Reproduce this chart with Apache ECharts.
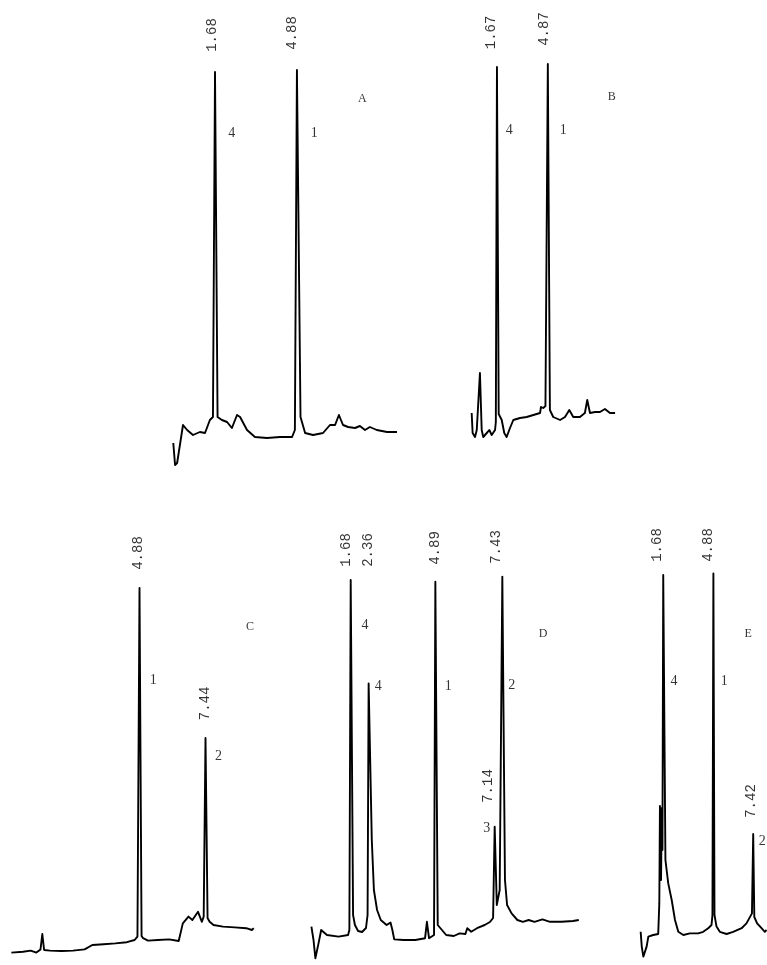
<!DOCTYPE html>
<html>
<head>
<meta charset="utf-8">
<script src="https://cdn.jsdelivr.net/npm/echarts@6/dist/echarts.min.js"></script>
<style>
  html, body { margin: 0; padding: 0; background: #fff; }
  #chart { width: 767px; height: 965px; }
</style>
</head>
<body>
<div id="chart"></div>
<script>
// retention time (min) vs detector response, one trace per chromatogram
const traceA = [
  [0.05, 6.75], [0.12, 1.25], [0.2, 1.75], [0.43, 11.25], [0.59, 10], [0.82, 8.75], [1.09, 9.5],
  [1.29, 9.25], [1.48, 12.5], [1.6, 13.25], [1.68, 99.5], [1.78, 13.25], [1.95, 12.5], [2.15, 12],
  [2.34, 10.5], [2.54, 13.75], [2.66, 13.25], [2.93, 10], [3.24, 8.25], [3.71, 8], [4.22, 8.25],
  [4.69, 8.25], [4.8, 10], [4.88, 100], [5.02, 13.25], [5.2, 9.25], [5.51, 8.75], [5.9, 9.25],
  [6.17, 11.25], [6.37, 11.25], [6.52, 13.75], [6.68, 11.25], [6.88, 10.75], [7.15, 10.5],
  [7.34, 11], [7.54, 10], [7.73, 10.75], [8.0, 10], [8.4, 9.5], [8.79, 9.5]
];
const traceB = [
  [0.08, 14.25], [0.14, 9.25], [0.29, 8.25], [0.4, 10], [0.6, 24.25], [0.71, 10], [0.81, 8.25],
  [1.03, 9.25], [1.19, 10], [1.34, 8.75], [1.55, 10], [1.6, 12], [1.67, 100.75], [1.78, 14],
  [1.97, 12.5], [2.13, 9.25], [2.28, 8.25], [2.49, 10.5], [2.7, 12.5], [3.12, 13], [3.54, 13.25],
  [3.96, 13.75], [4.38, 14.25], [4.44, 15.75], [4.58, 15.5], [4.72, 16], [4.87, 101.5], [5.0, 15],
  [5.21, 13.25], [5.64, 12.5], [5.95, 13.25], [6.22, 15], [6.47, 13.25], [6.89, 13.25], [7.2, 14.25],
  [7.35, 17.5], [7.52, 14.25], [7.84, 14.5], [8.15, 14.5], [8.46, 15.25], [8.78, 14.25], [9.1, 14.25]
];
const traceC = [
  [-0.09, 3.1], [0.36, 3.3], [0.66, 3.6], [0.88, 3.1], [1.04, 3.9], [1.11, 7.75], [1.18, 3.75],
  [1.41, 3.6], [1.85, 3.5], [2.3, 3.6], [2.75, 3.9], [3.05, 5], [3.49, 5.2], [3.94, 5.4], [4.39, 5.7],
  [4.69, 6.25], [4.8, 7.1], [4.88, 94.25], [4.96, 7.25], [5.02, 6.7], [5.21, 6.1], [5.59, 6.25],
  [6.03, 6.4], [6.4, 6], [6.56, 10.4], [6.78, 12.1], [6.93, 11.25], [7.15, 13.3], [7.3, 10.8],
  [7.37, 12.1], [7.44, 56.75], [7.52, 11.75], [7.6, 10.8], [7.75, 10], [8.12, 9.6], [8.57, 9.4],
  [9.02, 9.2], [9.24, 8.75], [9.31, 9.2]
];
const traceD = [
  [0.19, 9.6], [0.27, 6.25], [0.34, 1.7], [0.46, 5.4], [0.56, 8.75], [0.78, 7.5], [1.22, 7.1],
  [1.58, 7.5], [1.63, 8.75], [1.68, 96.25], [1.77, 12.5], [1.84, 10], [1.96, 8.5], [2.11, 8.25],
  [2.26, 9.25], [2.32, 12.5], [2.36, 70.4], [2.48, 31.25], [2.56, 18.75], [2.68, 13.75], [2.82, 11.25],
  [3.04, 10], [3.19, 10.6], [3.26, 8.75], [3.33, 6.4], [3.69, 6.25], [4.13, 6.25], [4.5, 6.7],
  [4.57, 10.8], [4.65, 6.7], [4.84, 7.5], [4.89, 95.8], [4.98, 10], [5.14, 8.75], [5.3, 7.5],
  [5.59, 7.25], [5.81, 7.9], [6.03, 7.75], [6.1, 9.2], [6.25, 8.3], [6.47, 9.2], [6.76, 10],
  [6.96, 10.75], [7.08, 11.75], [7.14, 34.6], [7.22, 15], [7.33, 18.75], [7.43, 97.1], [7.53, 21.25],
  [7.61, 15], [7.78, 12.9], [8.0, 11.25], [8.21, 10.8], [8.43, 11.25], [8.65, 10.8], [8.95, 11.4],
  [9.24, 10.8], [9.67, 10.8], [10.11, 11], [10.33, 11.25]
];
const traceE = [
  [0.24, 8.3], [0.31, 4.6], [0.41, 2.1], [0.52, 1.7], [0.62, 4.6], [0.73, 7.1], [1.04, 7.5],
  [1.36, 7.75], [1.43, 15.4], [1.47, 39.75], [1.54, 21.25], [1.59, 39.25], [1.63, 28.75],
  [1.68, 97.5], [1.82, 26.25], [2.0, 20.4], [2.22, 16.25], [2.43, 11.25], [2.64, 8.3], [2.96, 7.5],
  [3.38, 7.9], [3.91, 7.9], [4.23, 8.3], [4.55, 9.2], [4.76, 10], [4.82, 12.5], [4.88, 97.9],
  [4.95, 12.5], [5.08, 9.6], [5.29, 8.3], [5.72, 7.75], [6.14, 8.3], [6.68, 9.2], [6.99, 10.4],
  [7.34, 12.9], [7.42, 32.75], [7.49, 12], [7.67, 10.4], [7.95, 9.2], [8.16, 8.3], [8.27, 8.75]
];

// retention time labels: [t, y, text]
const rtA = [[1.56, 108.75, '1.68'], [4.68, 109.25, '4.88']];
const rtB = [[1.3, 109.4, '1.67'], [4.63, 110.25, '4.87']];
const rtC = [[4.82, 103, '4.88'], [7.42, 65.4, '7.44']];
const rtD = [[1.53, 103.75, '1.68'], [2.35, 103.75, '2.36'], [4.88, 104.25, '4.89'], [7.22, 104.5, '7.43'], [6.9, 44.75, '7.14']];
const rtE = [[1.29, 105, '1.68'], [4.55, 105, '4.88'], [7.31, 41, '7.42']];

// peak numbers: [t, y, text]
const pkA = [[2.33, 84.2, '4'], [5.56, 84.2, '1']];
const pkB = [[2.45, 85, '4'], [5.84, 85, '1']];
const pkC = [[5.41, 71.25, '1'], [7.94, 52.25, '2']];
const pkD = [[2.22, 85, '4'], [2.72, 69.6, '4'], [5.38, 69.6, '1'], [7.79, 70, '2'], [6.84, 34.2, '3']];
const pkE = [[2.36, 70.8, '4'], [5.57, 70.8, '1'], [7.99, 31, '2']];

// panel letters: [t, y, text]
const tagA = [7.43, 92.7, 'A'];
const tagB = [8.89, 93.3, 'B'];
const tagC = [9.17, 84.6, 'C'];
const tagD = [8.98, 82.9, 'D'];
const tagE = [7.1, 82.9, 'E'];

const chart = echarts.init(document.getElementById('chart'));

// grid placement: [left, top, px per minute, xmin, xmax]
const panels = [
  { g: [172, 10, 25.6, 0, 9], trace: traceA, rt: rtA, pk: pkA, tag: tagA },
  { g: [470.4, 10, 15.9, 0, 9.5], trace: traceB, rt: rtB, pk: pkB, tag: tagB },
  { g: [0.81, 505, 25.78, -0.5, 9.5], trace: traceC, rt: rtC, pk: pkC, tag: tagC },
  { g: [306.4, 505, 26.37, 0, 10.5], trace: traceD, rt: rtD, pk: pkD, tag: tagD },
  { g: [636.9, 505, 15.7, 0, 8.3], trace: traceE, rt: rtE, pk: pkE, tag: tagE }
];

const grid = [], xAxis = [], yAxis = [], series = [];
panels.forEach((p, i) => {
  const [left, top, k, xmin, xmax] = p.g;
  grid.push({ left: left, top: top, width: (xmax - xmin) * k, height: 460, containLabel: false });
  xAxis.push({ gridIndex: i, type: 'value', min: xmin, max: xmax, show: false });
  yAxis.push({ gridIndex: i, type: 'value', min: 0, max: 115, show: false });
  series.push({
    type: 'line', xAxisIndex: i, yAxisIndex: i, data: p.trace,
    showSymbol: false, clip: false, silent: true,
    lineStyle: { color: '#000', width: 1.9, join: 'round' }
  });
  series.push({
    type: 'scatter', xAxisIndex: i, yAxisIndex: i, symbolSize: 0, clip: false, silent: true,
    data: p.rt.map(d => ({ value: [d[0], d[1]], name: d[2] })),
    label: {
      show: true, position: 'inside', rotate: 90, formatter: '{b}',
      fontFamily: 'Liberation Mono', fontSize: 14, color: '#000'
    }
  });
  series.push({
    type: 'scatter', xAxisIndex: i, yAxisIndex: i, symbolSize: 0, clip: false, silent: true,
    data: p.pk.map(d => ({ value: [d[0], d[1]], name: d[2] })),
    label: {
      show: true, position: 'inside', formatter: '{b}',
      fontFamily: 'Liberation Serif', fontSize: 14, color: '#000'
    }
  });
  series.push({
    type: 'scatter', xAxisIndex: i, yAxisIndex: i, symbolSize: 0, clip: false, silent: true,
    data: [{ value: [p.tag[0], p.tag[1]], name: p.tag[2] }],
    label: {
      show: true, position: 'inside', formatter: '{b}',
      fontFamily: 'Liberation Serif', fontSize: 12, color: '#000'
    }
  });
});

chart.setOption({
  animation: false,
  backgroundColor: '#fff',
  grid: grid,
  xAxis: xAxis,
  yAxis: yAxis,
  series: series
});
</script>
</body>
</html>
